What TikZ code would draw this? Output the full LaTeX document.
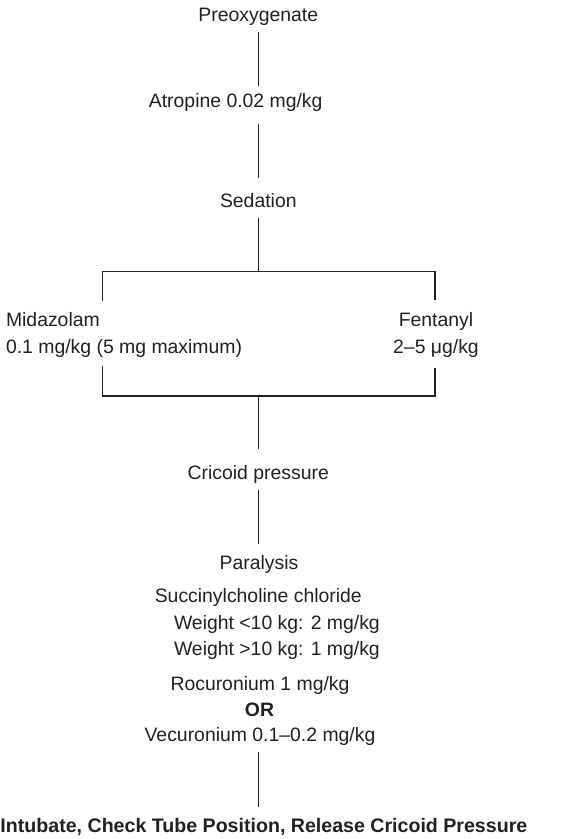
\documentclass[tikz,border=0pt]{standalone}
\usepackage{fontspec}
\setmainfont{Liberation Sans}
\definecolor{ink}{HTML}{231F20}
\begin{document}
\begin{tikzpicture}[x=1pt,y=-1pt,
  every node/.style={inner sep=0pt, outer sep=0pt, text=ink, font=\fontsize{19.4}{23}\selectfont},
  lbl/.style={anchor=base},
  lblw/.style={anchor=base west},
  boldlbl/.style={anchor=base, font=\fontsize{19.6}{23}\selectfont\bfseries},
  conn/.style={draw=ink, line width=1.3pt}]
\useasboundingbox (0,0) rectangle (567,839);
% nodes
\node[lbl] (pre) at (258.3,21.7) {Preoxygenate};
\node[lbl] (atr) at (235.7,107.3) {Atropine 0.02 mg/kg};
\node[lbl] (sed) at (258.3,207.3) {Sedation};
\node[lblw] (mida) at (6,326.7) {Midazolam};
\node[lblw] (midb) at (6,353.3) {0.1 mg/kg (5 mg maximum)};
\node[lbl] (fena) at (436,326.7) {Fentanyl};
\node[lbl] (fenb) at (436,353.3) {2–5 μg/kg};
\node[lbl] (cri) at (258.3,479.3) {Cricoid pressure};
\node[lbl] (par) at (259,569) {Paralysis};
\node[lbl] (suc) at (258.3,602.7) {Succinylcholine chloride};
\node[lblw] (wa) at (174,629) {Weight <10 kg: 2 mg/kg};
\node[lblw] (wb) at (174,655) {Weight >10 kg: 1 mg/kg};
\node[lbl] (roc) at (260,690.7) {Rocuronium 1 mg/kg};
\node[lbl, font=\fontsize{19.4}{23}\selectfont\bfseries] (or) at (259.5,716.7) {OR};
\node[boldlbl, anchor=base west] (intu) at (0.5,832.7) {Intubate, Check Tube Position, Release Cricoid Pressure};
\node[lbl] (vec) at (260,741.7) {Vecuronium 0.1–0.2 mg/kg};
% connector end points
\coordinate (p1) at (258.3,32.3);
\coordinate (p2) at (258.3,86);
\coordinate (p3) at (258.3,124.3);
\coordinate (p4) at (258.3,178.3);
\coordinate (p5) at (258.3,218.3);
\coordinate (tm) at (258.3,271.7);
\coordinate (tl) at (102.3,271.7);
\coordinate (tr) at (435,271.7);
\coordinate (tlb) at (102.3,301);
\coordinate (trb) at (435,300);
\coordinate (blt) at (102.3,366);
\coordinate (blb) at (102.3,396);
\coordinate (brt) at (435,367.7);
\coordinate (brb) at (435,396);
\coordinate (bm) at (258.3,396);
\coordinate (c1) at (258.3,449.3);
\coordinate (c2) at (258.3,490);
\coordinate (c3) at (258.3,544);
\coordinate (v1) at (258.3,752.3);
\coordinate (v2) at (258.3,806.7);
% connectors
\draw[conn] (p1) -- (p2);
\draw[conn] (p3) -- (p4);
\draw[conn] (p5) -- (tm);
\draw[conn] (tlb) -- (tl) -- (tr) -- (trb);
\draw[conn] (blt) -- (blb) -- (brb) -- (brt);
\draw[conn] (bm) -- (c1);
\draw[conn] (c2) -- (c3);
\draw[conn] (v1) -- (v2);
\end{tikzpicture}
\end{document}
